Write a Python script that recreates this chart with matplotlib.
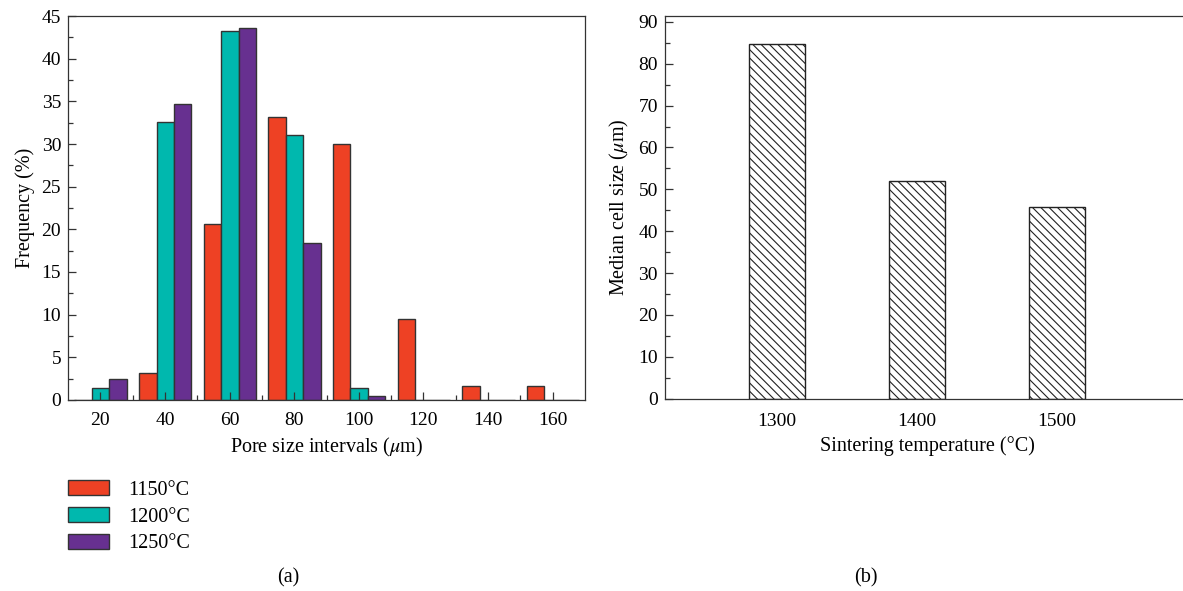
import matplotlib
matplotlib.use('Agg')
import matplotlib.pyplot as plt
import numpy as np

# pore size distribution (left panel)
intervals = [20, 40, 60, 80, 100, 120, 140, 160]
freq_1150 = [0, 3.2, 20.6, 33.2, 30.0, 9.5, 1.6, 1.6]
freq_1200 = [1.45, 32.6, 43.3, 31.0, 1.37, 0, 0, 0]
freq_1250 = [2.46, 34.7, 43.55, 18.4, 0.47, 0, 0, 0]
series_labels = ['1150°C', '1200°C', '1250°C']

# median cell size (right panel)
temps = [1300, 1400, 1500]
median_size = [84.6, 52.0, 45.9]

plt.rcParams['font.family'] = ['Liberation Serif', 'DejaVu Serif']
plt.rcParams['mathtext.fontset'] = 'stix'
plt.rcParams['hatch.linewidth'] = 0.8
plt.rcParams['axes.linewidth'] = 0.9
plt.rcParams['axes.edgecolor'] = '#333333'

colors = ['#EE4124', '#00B8AE', '#673090']
edge = '#333333'
tick_fs = 14
label_fs = 14.5

fig = plt.figure(figsize=(11.83, 5.91), dpi=100)

# ---- (a) ----
ax1 = fig.add_axes([0.0575, 0.3232, 0.437, 0.6497])
x = np.array(intervals, dtype=float)
w = 5.4
for i, (vals, c, lab) in enumerate(zip([freq_1150, freq_1200, freq_1250], colors, series_labels)):
    ax1.bar(x - 8 + i * w, vals, width=w, align='edge', color=c,
            edgecolor=edge, linewidth=1.0, label=lab)
ax1.set_xlim(10, 170)
ax1.set_ylim(0, 45)
ax1.set_xticks(intervals)
ax1.set_xticks(np.arange(30, 170, 20), minor=True)
ax1.set_yticks(np.arange(0, 46, 5))
ax1.set_yticks(np.arange(2.5, 45, 5), minor=True)
ax1.tick_params(direction='in', which='major', length=6, width=0.9, labelsize=tick_fs, color=edge)
ax1.tick_params(direction='in', which='minor', length=3.5, width=0.9, color=edge)
ax1.tick_params(axis='x', pad=9)
ax1.tick_params(axis='y', pad=5)
ax1.set_xlabel(r'Pore size intervals ($\mu$m)', fontsize=label_fs, labelpad=5)
ax1.set_ylabel('Frequency (%)', fontsize=label_fs, labelpad=5)

handles, labels = ax1.get_legend_handles_labels()
fig.legend(handles, labels, loc='upper left', bbox_to_anchor=(0.0575, 0.188),
           frameon=False, fontsize=label_fs, handlelength=2.05, handleheight=0.8,
           labelspacing=0.36, handletextpad=0.95, borderpad=0, borderaxespad=0)

# ---- (b) ----
ax2 = fig.add_axes([0.5621, 0.3254, 0.4438, 0.6475])
ax2.bar(temps, median_size, width=40, color='white', edgecolor='#222222',
        linewidth=1.0, hatch='\\\\\\\\')
ax2.set_xlim(1220, 1595)
ax2.set_ylim(0, 91.4)
ax2.set_xticks(temps)
ax2.set_yticks(np.arange(0, 91, 10))
ax2.set_yticks(np.arange(5, 91, 10), minor=True)
ax2.tick_params(axis='x', length=0, labelsize=tick_fs, pad=10)
ax2.tick_params(axis='y', direction='in', which='major', length=6, width=0.9, labelsize=tick_fs, pad=5, color=edge)
ax2.tick_params(axis='y', direction='in', which='minor', length=3.5, width=0.9, color=edge)
ax2.spines['right'].set_visible(False)
ax2.set_xlabel('Sintering temperature (°C)', fontsize=label_fs, labelpad=5)
ax2.set_ylabel(r'Median cell size ($\mu$m)', fontsize=label_fs, labelpad=5)

fig.text(288 / 1183, 1 - 578 / 591, '(a)', ha='center', va='center', fontsize=label_fs)
fig.text(866 / 1183, 1 - 578 / 591, '(b)', ha='center', va='center', fontsize=label_fs)

fig.savefig('out.png', dpi=100)
